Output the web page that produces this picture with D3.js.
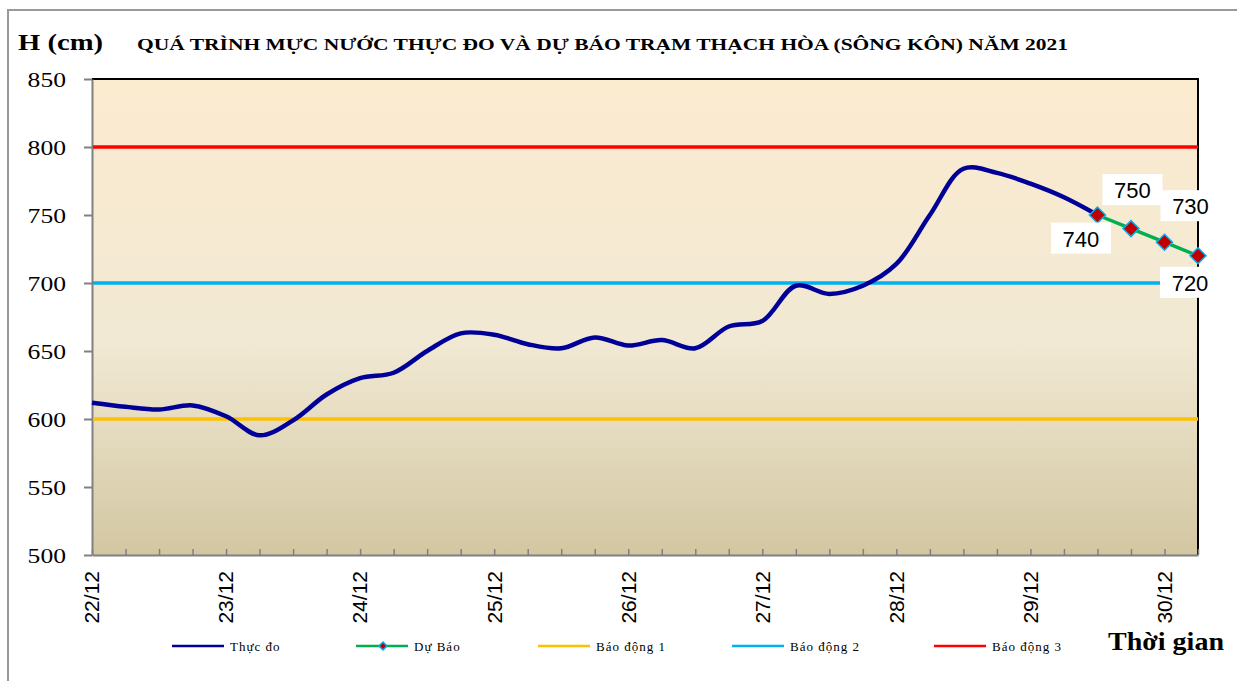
<!DOCTYPE html>
<html>
<head>
<meta charset="utf-8">
<script src="https://cdn.jsdelivr.net/npm/d3@7"></script>
<style>
body { margin: 0; background: #fff; }
svg text { font-family: "Liberation Serif", "Times New Roman", serif; }
</style>
</head>
<body>
<div id="chart"></div>
<script>
// x categories: one label per day, observations every 6 hours from 22/12 00h
var dayLabels = ["22/12", "23/12", "24/12", "25/12", "26/12", "27/12", "28/12", "29/12", "30/12"];
var stepHours = 6;
var lastHour = 198;

// Thực đo (cm)
var observed = [612, 609, 607, 610, 602, 588, 599, 618, 630, 634, 650, 663, 662,
    655, 652, 660, 654, 658, 652, 668, 672, 698, 692, 698, 714, 750, 784, 781,
    773, 763, 750];

// Dự Báo (cm), starts at 29/12 12h
var forecastStart = 180;
var forecast = [750, 740, 730, 720];

// alarm levels
var alarmNames = ["Báo động 1", "Báo động 2", "Báo động 3"];
var alarmLevels = [600, 700, 800];
var alarmColors = ["#FFC000", "#00B0F0", "#FF0000"];

var yTicks = [500, 550, 600, 650, 700, 750, 800, 850];

var chart = (function() {
    "use strict";

    var width = 1237, height = 681;
    var plotLeft = 92, plotRight = 1198, plotTop = 79, plotBottom = 555;

    var svg = d3.select("#chart").append("svg")
        .attr("width", width)
        .attr("height", height);

    var x = d3.scaleLinear().domain([0, lastHour]).range([plotLeft, plotRight]);
    var y = d3.scaleLinear().domain([500, 850]).range([plotBottom, plotTop]);

    // horizontally stretched text like the original export
    function stretched(g, str, px, py, size, sx, opts) {
        opts = opts || {};
        return g.append("text")
            .attr("transform", "translate(" + px + "," + py + ") scale(" + sx + ",1)")
            .style("font-size", size + "px")
            .style("font-weight", opts.bold ? "bold" : null)
            .style("letter-spacing", opts.spacing || null)
            .attr("text-anchor", opts.anchor || "start")
            .attr("dy", opts.dy || null)
            .attr("fill", "#000")
            .text(str);
    }

    // outer frame
    svg.append("rect")
        .attr("x", 8).attr("y", 10)
        .attr("width", 1300).attr("height", 700)
        .attr("fill", "none")
        .attr("stroke", "#999")
        .attr("stroke-width", 2);

    // plot background
    var grad = svg.append("defs").append("linearGradient")
        .attr("id", "bg")
        .attr("x1", 0).attr("y1", 0).attr("x2", 0).attr("y2", 1);
    grad.append("stop").attr("offset", "0%").attr("stop-color", "#FCEBCF");
    grad.append("stop").attr("offset", "55%").attr("stop-color", "#F1E9D4");
    grad.append("stop").attr("offset", "100%").attr("stop-color", "#D3C7A2");

    svg.append("rect")
        .attr("x", plotLeft).attr("y", plotTop)
        .attr("width", plotRight - plotLeft).attr("height", plotBottom - plotTop)
        .attr("fill", "url(#bg)");

    // top and right border
    svg.append("path")
        .attr("d", "M" + plotLeft + "," + plotTop + "H" + plotRight + "V" + plotBottom)
        .attr("fill", "none")
        .attr("stroke", "#000")
        .attr("stroke-width", 2);

    // y axis
    var yAxis = svg.append("g")
        .attr("transform", "translate(" + plotLeft + ",0)")
        .call(d3.axisLeft(y).tickValues(yTicks).tickSize(8).tickSizeOuter(0));
    yAxis.select(".domain").attr("stroke", "#808080").attr("stroke-width", 2);
    yAxis.selectAll(".tick line").attr("stroke", "#808080").attr("stroke-width", 2);
    yAxis.selectAll(".tick text").remove();
    yAxis.selectAll(".tick").each(function(d) {
        stretched(d3.select(this), d, -26, 0, 21, 1.22, {anchor: "end", dy: "0.35em"});
    });

    // x axis, minor ticks every 6 hours pointing inside
    var xAxis = svg.append("g")
        .attr("transform", "translate(0," + plotBottom + ")")
        .call(d3.axisBottom(x)
            .tickValues(d3.range(0, lastHour + 1, stepHours))
            .tickSizeInner(-6)
            .tickSizeOuter(0)
            .tickFormat(""));
    xAxis.select(".domain").attr("stroke", "#808080").attr("stroke-width", 2);
    xAxis.selectAll(".tick line").attr("stroke", "#808080").attr("stroke-width", 1.5);

    svg.append("g").selectAll("text")
        .data(dayLabels)
        .enter()
        .append("text")
        .attr("transform", function(d, i) {
            return "translate(" + x(i * 24) + "," + (plotBottom + 16) + ") rotate(-90)";
        })
        .attr("text-anchor", "end")
        .attr("dy", "0.35em")
        .style("font-family", "'Liberation Sans', Arial, sans-serif")
        .style("font-size", "21px")
        .text(function(d) { return d; });

    // alarm lines
    svg.append("g").selectAll("line")
        .data(alarmLevels)
        .enter()
        .append("line")
        .attr("x1", plotLeft + 1).attr("x2", plotRight)
        .attr("y1", function(d) { return y(d); })
        .attr("y2", function(d) { return y(d); })
        .attr("stroke", function(d, i) { return alarmColors[i]; })
        .attr("stroke-width", 3.5);

    // observed line
    var smooth = d3.line()
        .x(function(d) { return x(d.h); })
        .y(function(d) { return y(d.v); })
        .curve(d3.curveCatmullRom.alpha(0.5));
    var straight = d3.line()
        .x(function(d) { return x(d.h); })
        .y(function(d) { return y(d.v); });

    var obsPts = observed.map(function(v, i) { return {h: i * stepHours, v: v}; });
    var fcPts = forecast.map(function(v, i) { return {h: forecastStart + i * stepHours, v: v}; });

    svg.append("path")
        .datum(obsPts)
        .attr("d", smooth)
        .attr("fill", "none")
        .attr("stroke", "#000099")
        .attr("stroke-width", 4.5)
        .attr("stroke-linejoin", "round");

    svg.append("path")
        .datum(fcPts)
        .attr("d", straight)
        .attr("fill", "none")
        .attr("stroke", "#00B050")
        .attr("stroke-width", 3.5);

    var diamond = "M0,-8L8,0L0,8L-8,0Z";
    svg.append("g").selectAll("path")
        .data(fcPts)
        .enter()
        .append("path")
        .attr("d", diamond)
        .attr("transform", function(d) { return "translate(" + x(d.h) + "," + y(d.v) + ")"; })
        .attr("fill", "#C00000")
        .attr("stroke", "#00B0F0")
        .attr("stroke-width", 1.5);

    // data labels (white boxes), offsets from each point
    var labelOffsets = [[35, -25], [-50, 10], [26, -36], [-8, 27]];
    var labels = svg.append("g");
    fcPts.forEach(function(d, i) {
        var cx = x(d.h) + labelOffsets[i][0];
        var cy = y(d.v) + labelOffsets[i][1];
        labels.append("rect")
            .attr("x", cx - 30).attr("y", cy - 16)
            .attr("width", 60).attr("height", 31)
            .attr("fill", "#fff");
        labels.append("text")
            .attr("x", cx).attr("y", cy)
            .attr("dy", "0.36em")
            .attr("text-anchor", "middle")
            .style("font-family", "'Liberation Sans', Arial, sans-serif")
            .style("font-size", "22px")
            .text(d.v);
    });

    // titles
    stretched(svg, "H (cm)", 18, 50, 24, 1, {bold: true})
        .attr("textLength", 85).attr("lengthAdjust", "spacingAndGlyphs");
    stretched(svg, "QUÁ TRÌNH MỰC NƯỚC THỰC ĐO VÀ DỰ BÁO TRẠM THẠCH HÒA (SÔNG KÔN) NĂM 2021", 137, 50, 16, 1, {bold: true})
        .attr("textLength", 931).attr("lengthAdjust", "spacingAndGlyphs");
    stretched(svg, "Thời gian", 1108, 650, 25, 1, {bold: true})
        .attr("textLength", 116).attr("lengthAdjust", "spacingAndGlyphs");

    // legend
    var legendNames = ["Thực đo", "Dự Báo"].concat(alarmNames);
    var legendColors = ["#000099", "#00B050"].concat(alarmColors);
    var legendX = [172, 356, 538, 732, 934];
    var legendY = 646;
    var legend = svg.append("g");
    legendNames.forEach(function(name, i) {
        var lx = legendX[i];
        legend.append("line")
            .attr("x1", lx).attr("x2", lx + 52)
            .attr("y1", legendY).attr("y2", legendY)
            .attr("stroke", legendColors[i])
            .attr("stroke-width", 2.5);
        if (i === 1) {
            legend.append("path")
                .attr("d", "M0,-4L4,0L0,4L-4,0Z")
                .attr("transform", "translate(" + (lx + 27) + "," + legendY + ")")
                .attr("fill", "#C00000")
                .attr("stroke", "#00B0F0")
                .attr("stroke-width", 1.5);
        }
        stretched(legend, name, lx + 58, legendY, 13, 1, {dy: "0.35em", spacing: "1px"});
    });

    return {x: x, y: y};
})();
</script>
</body>
</html>
